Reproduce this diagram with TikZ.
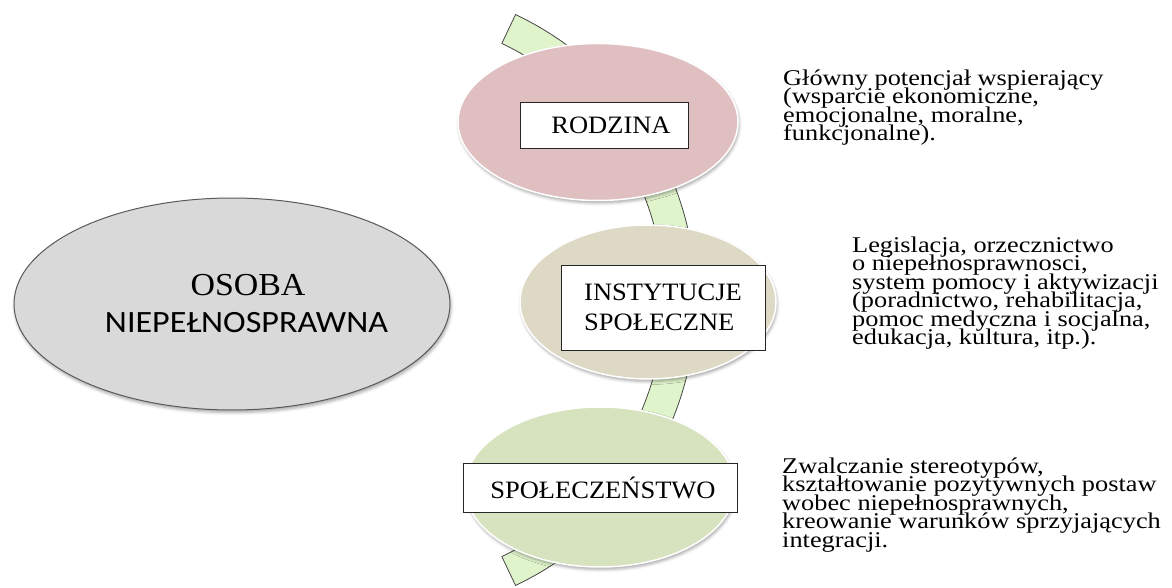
\documentclass[tikz,border=0pt]{standalone}
\usepackage{fontspec}
\setmainfont{Liberation Serif}
\newfontfamily\serifwide{Liberation Serif}[FakeStretch=1.06]
\newfontfamily\descfamily{Liberation Serif}[FakeStretch=1.17]
\newfontfamily\calfamily{Carlito}[FakeStretch=1.1]
\usetikzlibrary{shapes.geometric,shadows.blur}

\definecolor{bandfill}{RGB}{224,244,204}
\definecolor{bandline}{RGB}{70,70,70}
\definecolor{pinkfill}{RGB}{224,191,193}
\definecolor{tanfill}{RGB}{221,217,196}
\definecolor{greenfill}{RGB}{215,227,191}
\definecolor{grayfill}{RGB}{217,217,217}
\definecolor{grayline}{RGB}{90,90,90}

\tikzset{
  softshadow/.style={blur shadow={shadow xshift=1pt,shadow yshift=-2.5pt,
      shadow blur radius=3pt,shadow opacity=35}},
  bubble/.style={ellipse,draw=white,line width=1.5pt,inner sep=0pt,softshadow},
  labelbox/.style={rectangle,draw=black!85,line width=0.9pt,fill=white,
      inner sep=0pt,font=\serifwide\fontsize{25}{30}\selectfont},
  desc/.style={anchor=north west,align=left,inner sep=0pt,
      font=\descfamily\fontsize{22.5}{18.4}\selectfont},
  band/.style={fill=bandfill,draw=bandline,line width=0.8pt,line join=round}
}

\begin{document}
% tight description lines: always keep the fixed baseline distance
\setlength{\lineskiplimit}{-50pt}
\begin{tikzpicture}[x=1pt,y=-1pt]
\useasboundingbox (0,0) rectangle (1172,588);

% curved band behind the three circles
\draw[band] ([shift={(-64.6:316)}]380,300)
  arc[start angle=-64.6,end angle=64.6,radius=316]
  -- ([shift={(64.6:284)}]380,300)
  arc[start angle=64.6,end angle=-64.6,radius=284] -- cycle;

% left ellipse
\node[ellipse,fill=grayfill,draw=grayline,line width=1pt,inner sep=0pt,
      minimum width=436pt,minimum height=212pt,softshadow] (osoba) at (232,304) {};
\node[anchor=base,inner sep=0pt,font=\serifwide\fontsize{32}{36}\selectfont]
  (osobaA) at (248,295) {OSOBA};
\node[anchor=base,inner sep=0pt,font=\calfamily\fontsize{31}{36}\selectfont]
  (osobaB) at (246.5,332) {NIEPEŁNOSPRAWNA};

% three coloured ellipses with label boxes
\node[bubble,fill=pinkfill,minimum width=280pt,minimum height=157pt] (rod) at (598,122) {};
\node[labelbox,minimum width=168pt,minimum height=46pt] (rodbox) at (604,125) {\hspace*{14pt}RODZINA};

\node[bubble,fill=tanfill,minimum width=256pt,minimum height=154pt] (inst) at (648,302) {};
\node[labelbox,minimum width=204pt,minimum height=85pt,align=left] (instbox) at (663,307.5)
  {INSTYTUCJE\\SPOŁECZNE};

\node[bubble,fill=greenfill,minimum width=270pt,minimum height=160pt] (spol) at (600,487) {};
\node[labelbox,minimum width=274pt,minimum height=49pt] (spolbox) at (600,487.5) {\hspace*{6pt}SPOŁECZEŃSTWO};

% descriptions
\node[desc] (d1) at (783,69.6) {Główny potencjał wspierający\\(wsparcie ekonomiczne,\\emocjonalne, moralne,\\funkcjonalne).};
\node[desc] (d2) at (852,236.6) {Legislacja, orzecznictwo\\o niepełnosprawnosci,\\system pomocy i aktywizacji\\(poradnictwo, rehabilitacja,\\pomoc medyczna i socjalna,\\edukacja, kultura, itp.).};
\node[desc] (d3) at (782,457.6) {Zwalczanie stereotypów,\\kształtowanie pozytywnych postaw\\wobec niepełnosprawnych,\\kreowanie warunków sprzyjających\\integracji.};
\end{tikzpicture}
\end{document}
